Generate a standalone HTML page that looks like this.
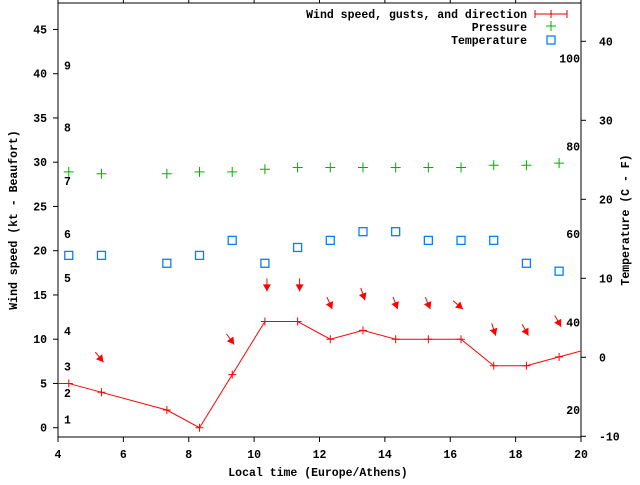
<!DOCTYPE html>
<html><head><meta charset="utf-8"><style>
body{margin:0;background:#fff}
svg text{font-family:"Liberation Mono","DejaVu Sans Mono",monospace;font-weight:bold;font-size:11.5px;fill:#000}
</style></head><body>
<svg id="chart" width="640" height="480" viewBox="0 0 640 480" xmlns="http://www.w3.org/2000/svg"></svg>
<script>
const times=[3.33,4.33,5.33,7.33,8.33,9.33,10.33,11.33,12.33,13.33,14.33,15.33,16.33,17.33,18.33,19.33,20.33];
const windKt=[5,5,4,2,0,6,12,12,10,11,10,10,10,7,7,8,9];
const arrowTimes=[5.33,9.33,10.33,11.33,12.33,13.33,14.33,15.33,16.33,17.33,18.33,19.33];
const arrowWind=[4,6,12,12,10,11,10,10,10,7,7,8];
const arrowBearing=[141,144,180,180,156,161,159,157,130,162,151,151];
const ptTimes=[4.33,5.33,7.33,8.33,9.33,10.33,11.33,12.33,13.33,14.33,15.33,16.33,17.33,18.33,19.33];
const pressure=[28.9,28.7,28.7,28.9,28.9,29.2,29.4,29.4,29.4,29.4,29.4,29.4,29.65,29.65,29.9];
const tempC=[12.9,12.9,11.9,12.9,14.8,11.9,13.9,14.8,15.9,15.9,14.8,14.8,14.8,11.9,10.9];
const xTicks=[4,6,8,10,12,14,16,18,20];
const yTicks=[0,5,10,15,20,25,30,35,40,45];
const y2Ticks=[-10,0,10,20,30,40];
const beaufortLabels=["1","2","3","4","5","6","7","8","9"];
const beaufortKt=[0.9,3.9,6.9,10.9,16.9,21.9,27.9,33.9,40.9];
const fahrLabels=["20","40","60","80","100"];
const fahrC=[-6.7,4.4,15.6,26.7,37.8];

const L=58,R=581,T=3,B=437;
const X=t=>L+(t-4)/16*(R-L);
const Y=v=>427.7-v*8.85;
const Y2=v=>357.3-v*7.9;
const svg=document.getElementById('chart');
const NS='http://www.w3.org/2000/svg';
function mk(tag,a,parent){const e=document.createElementNS(NS,tag);for(const k in a)e.setAttribute(k,a[k]);(parent||svg).appendChild(e);return e;}
function txt(s,x,y,anchor,parent){const e=mk('text',{x:x,y:y,'text-anchor':anchor||'start'},parent);e.textContent=s;return e;}

const clip=mk('clipPath',{id:'pc'});mk('rect',{x:L,y:T,width:R-L,height:B-T},clip);

const axes=mk('g',{});


mk('rect',{x:L,y:T,width:R-L,height:B-T,fill:'none',stroke:'#000','stroke-width':1},axes);
xTicks.forEach(t=>{const x=X(t);mk('line',{x1:x,y1:B,x2:x,y2:B+5,stroke:'#000'},axes);mk('line',{x1:x,y1:T,x2:x,y2:T-5,stroke:'#000'},axes);
 const e=txt(String(t),x,458,'middle',axes);});
yTicks.forEach(v=>{const y=Y(v);mk('line',{x1:L-5,y1:y,x2:L,y2:y,stroke:'#000'},axes);
 const e=txt(String(v),47,y+4,'end',axes);});
y2Ticks.forEach(v=>{const y=Y2(v);mk('line',{x1:R,y1:y,x2:R+5,y2:y,stroke:'#000'},axes);
 const e=txt(String(v),599,y+4,'start',axes);});
beaufortLabels.forEach((s,i)=>{const e=txt(s,64,Y(beaufortKt[i])+4,'start',axes);});
fahrLabels.forEach((s,i)=>{const e=txt(s,580,Y2(fahrC[i])+4,'end',axes);});

let e=txt('Local time (Europe/Athens)',318,476,'middle');
e=txt('Wind speed (kt - Beaufort)',0,0,'middle');e.setAttribute('transform','translate(17,220) rotate(-90)');
e=txt('Temperature (C - F)',0,0,'middle');e.setAttribute('transform','translate(629,220) rotate(-90)');

const plot=mk('g',{'clip-path':'url(#pc)'});


const wl=mk('polyline',{points:times.map((t,i)=>X(t)+','+Y(windKt[i])).join(' '),fill:'none',stroke:'#f00','stroke-width':1},plot);

times.forEach((t,i)=>{const x=X(t),y=Y(windKt[i]);const p=mk('path',{d:`M${x-4},${y}H${x+4}M${x},${y-4}V${y+4}`,stroke:'#f00'},plot);
 });
arrowTimes.forEach((t,i)=>{const hx=X(t)+2,hy=Y(arrowWind[i]+3.4);const a=arrowBearing[i]*Math.PI/180;const ux=Math.sin(a),uy=-Math.cos(a);
 const tx=hx-ux*13,ty=hy-uy*13;const g=mk('g',{},plot);
 mk('line',{x1:tx,y1:ty,x2:hx,y2:hy,stroke:'#f00'},g);
 const bx=hx-ux*7,by=hy-uy*7,px=-uy,py=ux;
 mk('polygon',{points:`${hx},${hy} ${bx+px*4},${by+py*4} ${bx-px*4},${by-py*4}`,fill:'#f00'},g);});
ptTimes.forEach((t,i)=>{const x=X(t),y=Y(pressure[i]);const p=mk('path',{d:`M${x-5},${y}H${x+5}M${x},${y-5}V${y+5}`,stroke:'#00b000'},plot);
 
 const y2=Y2(tempC[i]);const r=mk('rect',{x:x-4,y:y2-4,width:8,height:8,fill:'none',stroke:'#0080ff','stroke-width':1.3},plot);
 });

const lg=mk('g',{});
[['Wind speed, gusts, and direction',14],['Pressure',27],['Temperature',40]].forEach(([s,y])=>{const t=txt(s,527,y+4,'end',lg);});
mk('path',{d:'M535,14H567M535,10V18M567,10V18M551,10V18',stroke:'#d00'},lg);
mk('path',{d:'M546,26H556M551,21V31',stroke:'#00b000'},lg);
mk('rect',{x:547,y:36,width:8,height:8,fill:'none',stroke:'#0080ff','stroke-width':1.3},lg);
</script>
</body></html>
